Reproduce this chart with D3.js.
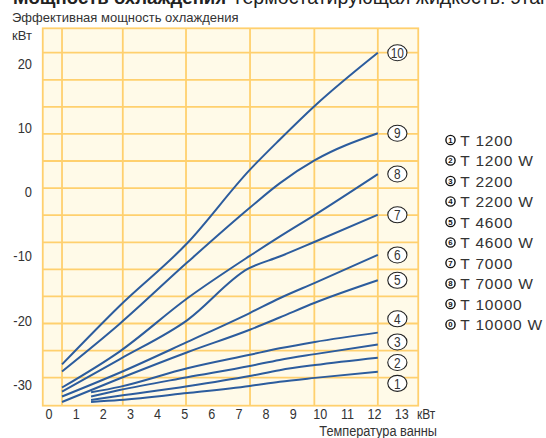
<!DOCTYPE html>
<html>
<head>
<meta charset="utf-8">
<script src="https://cdn.jsdelivr.net/npm/d3@7"></script>
<style>
  html, body { margin: 0; padding: 0; background: #fff; }
  svg { display: block; }
</style>
</head>
<body>
<div id="chart"></div>
<script>
// Cooling capacity curves, one per unit model
const models = ["T 1200", "T 1200 W", "T 2200", "T 2200 W", "T 4600",
                "T 4600 W", "T 7000", "T 7000 W", "T 10000", "T 10000 W"];
const badges = ["1", "2", "3", "4", "5", "6", "7", "8", "9", "10"];
const legendMarks = ["1", "2", "3", "4", "5", "6", "7", "8", "9", "0"];

// kW positions of the curve knots (small units start later)
const knotsSmall = [1.55, 2.6, 5.1, 7.4, 8.5, 9.8, 12.12];
const knotsLarge = [0.48, 2.6, 5.1, 7.4, 8.5, 9.8, 12.12];
const knots7000  = [0.48, 2.6, 5.1, 7.34, 8.5, 9.8, 12.12];

// bath temperature at each knot
const t1200   = [-32.75, -32.45, -31.35, -30.25, -29.6, -29.0, -28.05];
const t1200w  = [-32.45, -31.8, -30.3, -28.7, -27.8, -27.0, -25.85];
const t2200   = [-31.9, -30.9, -28.9, -27.15, -26.2, -25.3, -23.8];
const t2200w  = [-31.25, -30.4, -27.5, -25.4, -24.4, -23.4, -21.95];
const t4600   = [-32.75, -29.1, -25.0, -21.5, -19.6, -17.3, -13.8];
const t4600w  = [-31.9, -28.2, -23.4, -18.9, -16.6, -14.2, -9.85];
const t7000   = [-31.15, -26.1, -20.0, -12.0, -10.1, -7.8, -3.6];
const t7000w  = [-30.5, -24.9, -16.6, -10.0, -7.0, -3.6, 2.75];
const t10000  = [-28.0, -20.6, -11.0, -2.5, 1.3, 4.9, 9.1];
const t10000w = [-26.9, -17.8, -8.0, 3.4, 8.1, 13.4, 21.65];

const seriesValues = [t1200, t1200w, t2200, t2200w, t4600, t4600w, t7000, t7000w, t10000, t10000w];
const seriesKnots  = [knotsSmall, knotsSmall, knotsSmall, knotsSmall, knotsLarge,
                      knotsLarge, knots7000, knotsLarge, knotsLarge, knotsLarge];

// where the numbered badges sit at the right end (temperature units)
const badgeY = [-29.85, -26.6, -23.4, -19.8, -13.8, -9.85, -3.6, 2.75, 9.1, 21.65];

const xTicks = [0, 1, 2, 3, 4, 5, 6, 7, 8, 9, 10, 11, 12, 13];
const yTicks = [20, 10, 0, -10, -20, -30];

// background grid (kW / °C)
const gridX = [0.48, 2.72, 5.05, 7.41, 9.78, 12.12];
const gridY = [21.65, 17.43, 13.21, 9.0, 4.78, 0.56, -3.66, -7.88, -12.09, -16.31, -20.53, -24.75, -28.97];
const plotX = [-0.23, 13.61];
const plotY = [-33.33, 25.45];

const W = 546, H = 438;
const sans = "'Liberation Sans', Arial, Helvetica, sans-serif";
const ink = "#333";

const svg = d3.select("#chart").append("svg")
  .attr("width", W).attr("height", H);

const x = d3.scaleLinear().domain([0, 13]).range([49, 401.7]);
const y = d3.scaleLinear().domain([-30, 20]).range([384.3, 63.3]);

// condensed text: horizontal squeeze of a regular sans face
function condensed(parent, px, py, str, size, anchor, squeeze) {
  return parent.append("text")
    .attr("transform", `translate(${px},${py}) scale(${squeeze},1)`)
    .attr("text-anchor", anchor)
    .attr("font-family", sans).attr("font-size", size).attr("fill", ink)
    .text(str);
}

// titles
const title = svg.append("text").attr("x", 13).attr("y", 4)
  .attr("font-family", sans).attr("fill", "#222");
title.append("tspan").attr("font-weight", "bold").attr("font-size", 18.6)
  .text("Мощность охлаждения");
title.append("tspan").attr("font-size", 19.6).text(" Термостатирующая жидкость: этанол");

svg.append("text").attr("x", 12).attr("y", 22)
  .attr("font-family", sans).attr("font-size", 13).attr("fill", ink)
  .text("Эффективная мощность охлаждения");

svg.append("text").attr("x", 12).attr("y", 40)
  .attr("font-family", sans).attr("font-size", 13).attr("fill", ink)
  .text("кВт");

// plot panel
const gridColor = "#FFD06E";
svg.append("rect")
  .attr("x", x(plotX[0])).attr("y", y(plotY[1]))
  .attr("width", x(plotX[1]) - x(plotX[0]))
  .attr("height", y(plotY[0]) - y(plotY[1]))
  .attr("fill", "#FFFAE8");

const grid = svg.append("g").attr("stroke", gridColor).attr("stroke-width", 1.8);
grid.selectAll("line.v").data(gridX).join("line").attr("class", "v")
  .attr("x1", d => x(d)).attr("x2", d => x(d))
  .attr("y1", y(plotY[1])).attr("y2", y(plotY[0]));
grid.selectAll("line.h").data(gridY).join("line").attr("class", "h")
  .attr("y1", d => y(d)).attr("y2", d => y(d))
  .attr("x1", x(plotX[0])).attr("x2", x(plotX[1]));
svg.append("rect")
  .attr("x", x(plotX[0])).attr("y", y(plotY[1]))
  .attr("width", x(plotX[1]) - x(plotX[0]))
  .attr("height", y(plotY[0]) - y(plotY[1]))
  .attr("fill", "none").attr("stroke", gridColor).attr("stroke-width", 1.8);

// curves
const line = d3.line().x(d => x(d[0])).y(d => y(d[1])).curve(d3.curveMonotoneX);
svg.append("g").selectAll("path").data(seriesValues).join("path")
  .attr("d", (vals, i) => line(vals.map((v, j) => [seriesKnots[i][j], v])))
  .attr("fill", "none").attr("stroke", "#2C5C9D").attr("stroke-width", 2)
  .attr("stroke-linejoin", "round");

// numbered badges at curve ends
const badgeX = 12.84;
const badgeLayer = svg.append("g");
badges.forEach((b, i) => {
  const g = badgeLayer.append("g")
    .attr("transform", `translate(${x(badgeX)},${y(badgeY[i])})`);
  g.append("ellipse").attr("rx", 9.6).attr("ry", 8)
    .attr("fill", "#fff").attr("stroke", "#222").attr("stroke-width", 1.1);
  condensed(g, 0, 5.2, b, 14.5, "middle", 0.82);
});

// axis labels
const yLab = svg.append("g");
yTicks.forEach(t => condensed(yLab, 32, y(t) + 5.4, String(t), 15, "end", 0.86));

const xLab = svg.append("g");
xTicks.forEach(t => condensed(xLab, x(t), 419, String(t), 15, "middle", 0.84));

condensed(svg, 417, 419, "кВт", 15, "start", 0.8);
condensed(svg, 437, 436, "Температура ванны", 14.5, "end", 0.88);

// legend
const legend = svg.append("g");
models.forEach((m, i) => {
  const g = legend.append("g").attr("transform", `translate(450.5,${140 + 20.5 * i})`);
  g.append("circle").attr("r", 4.6)
    .attr("fill", "#fff").attr("stroke", "#111").attr("stroke-width", 1.4);
  g.append("text").attr("text-anchor", "middle").attr("dy", "0.36em")
    .attr("font-family", sans).attr("font-size", 7.8).attr("font-weight", "bold")
    .attr("fill", "#111").text(legendMarks[i]);
  g.append("text").attr("x", 9.8).attr("dy", "0.36em")
    .attr("font-family", sans).attr("font-size", 15.5).attr("letter-spacing", 0.8)
    .attr("fill", ink).text(m);
});
</script>
</body>
</html>
